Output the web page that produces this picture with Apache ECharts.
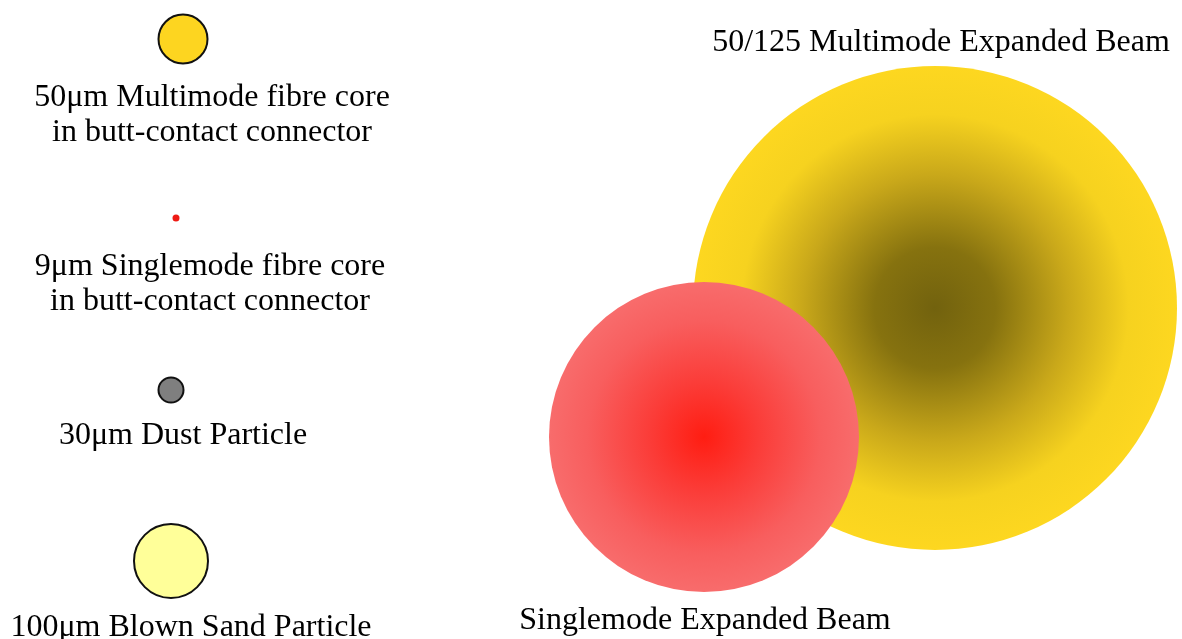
<!DOCTYPE html>
<html lang="en">
<head>
	<meta charset="UTF-8">
	<title>Fibre core vs particle sizes</title>
	<script src="https://cdn.jsdelivr.net/npm/echarts@6/dist/echarts.min.js"></script>
	<style>
		html, body { margin: 0; padding: 0; background: #fff; }
		#main { width: 1182px; height: 639px; }
	</style>
</head>
<body>
<div id="main"></div>
<script>
	// circles: centre and radius, in page units (axes run 0..1182, 0..639)
	var names  = ['50um core', '9um core', '30um dust', '100um sand', 'MM beam', 'SM beam'];
	var cx     = [183, 176, 171, 171, 935, 704];
	var cy     = [39, 218, 390, 561, 308, 437];
	var radius = [24.5, 3.5, 12.5, 37, 242, 155];

	// text labels
	var labelText = [
		'50μm Multimode fibre core\nin butt-contact connector',
		'9μm Singlemode fibre core\nin butt-contact connector',
		'30μm Dust Particle',
		'100μm Blown Sand Particle',
		'50/125 Multimode Expanded Beam',
		'Singlemode Expanded Beam'
	];
	var labelX = [212, 210, 183, 191, 941, 705];
	var labelY = [115, 284, 436, 628, 43, 621];

	var fills = [
		'#fdd520',
		'#ee1b14',
		'#7f7f7f',
		'#ffff99',
		{ type: 'radial', x: 0.5, y: 0.5, r: 0.5, colorStops: [
			{ offset: 0, color: '#72620e' },
			{ offset: 0.25, color: '#86720f' },
			{ offset: 0.55, color: '#c9a81a' },
			{ offset: 0.8, color: '#f6d21f' },
			{ offset: 1, color: '#fdd720' }
		]},
		{ type: 'radial', x: 0.5, y: 0.5, r: 0.5, colorStops: [
			{ offset: 0, color: '#ff1d12' },
			{ offset: 0.35, color: '#fb3c38' },
			{ offset: 0.75, color: '#f85e5e' },
			{ offset: 1, color: '#f86c6c' }
		]}
	];
	var strokes = ['#111', null, '#111', '#111', null, null];

	var circleData = [];
	for (var i = 0; i < names.length; i++) {
		circleData.push([cx[i], cy[i], radius[i], i]);
	}
	var textData = [];
	for (var j = 0; j < labelText.length; j++) {
		textData.push({ value: [labelX[j], labelY[j]], name: labelText[j] });
	}

	var chart = echarts.init(document.getElementById('main'));
	chart.setOption({
		animation: false,
		grid: { left: 0, right: 0, top: 0, bottom: 0 },
		xAxis: { type: 'value', min: 0, max: 1182, show: false },
		yAxis: { type: 'value', min: 0, max: 639, inverse: true, show: false },
		series: [
			{
				type: 'custom',
				data: circleData,
				renderItem: function (params, api) {
					var c = api.coord([api.value(0), api.value(1)]);
					var s = api.size([api.value(2), api.value(2)]);
					var k = api.value(3);
					return {
						type: 'circle',
						shape: { cx: c[0], cy: c[1], r: s[0] },
						style: {
							fill: fills[k],
							stroke: strokes[k] || 'none',
							lineWidth: strokes[k] ? 2 : 0
						}
					};
				}
			},
			{
				type: 'scatter',
				symbolSize: 0,
				itemStyle: { opacity: 1 },
				data: textData,
				label: {
					show: true,
					position: 'inside',
					formatter: '{b}',
					fontFamily: '"Liberation Serif", "Times New Roman", serif',
					fontSize: 32,
					lineHeight: 35,
					align: 'center',
					color: '#000',
					opacity: 1
				}
			}
		]
	});
</script>
</body>
</html>
